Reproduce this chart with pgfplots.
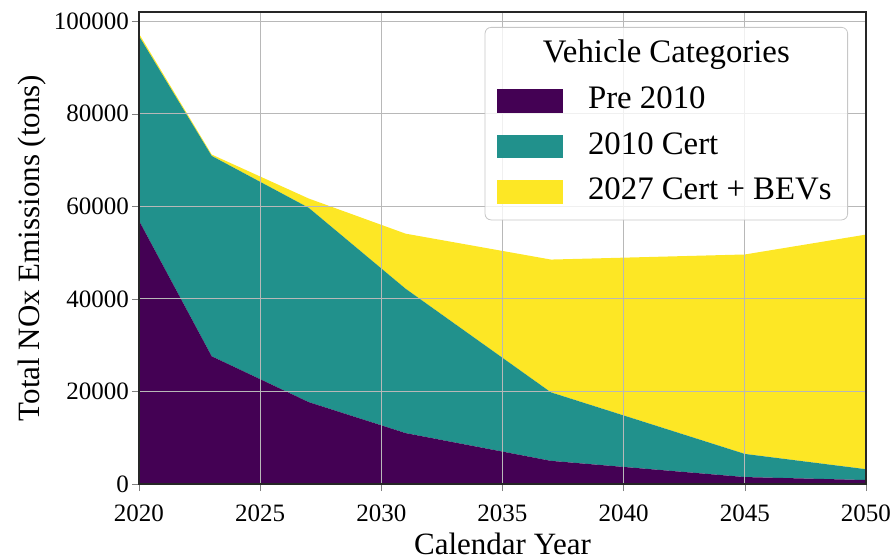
\documentclass[border=0pt]{standalone}
\usepackage{fontspec}
\setmainfont{Liberation Serif}
\usepackage{pgfplots}
\pgfplotsset{compat=1.18}
\definecolor{vpurple}{HTML}{440154}
\definecolor{vteal}{HTML}{21918C}
\definecolor{vyellow}{HTML}{FDE725}
\begin{document}
\begin{tikzpicture}
\path[use as bounding box] (-69.5pt,-37pt) rectangle (377pt,242pt);
\begin{axis}[
  scale only axis, width=363.5pt, height=236pt,
  xmin=2020, xmax=2050, ymin=0, ymax=102000,
  stack plots=y,
  xtick={2020,2025,2030,2035,2040,2045,2050},
  xticklabels={2020,2025,2030,2035,2040,2045,2050},
  ytick={0,20000,40000,60000,80000,100000},
  yticklabels={0,20000,40000,60000,80000,100000},
  scaled y ticks=false,
  tick label style={font=\fontsize{12.5}{14}\selectfont},
  xticklabel style={yshift=-3.5pt},
  yticklabel style={xshift=2pt},
  label style={font=\fontsize{15.5}{18}\selectfont},
  xlabel={Calendar Year}, ylabel={Total NOx Emissions (tons)},
  xlabel style={yshift=1.5pt},
  ylabel shift=-3pt,
  grid=major, grid style={color=black!28, line width=0.5pt},
  axis on top,
  tick align=outside, xtick pos=left, ytick pos=left,
  major tick length=3.5pt,
  axis line style={black!85, line width=0.6pt},
  legend image code/.code={\fill[#1, sharp corners, fill opacity=1] (0pt,-5.9pt) rectangle (33pt,5.9pt);},
  legend style={at={(rel axis cs:1,1)}, xshift=-9pt, yshift=-7.5pt, anchor=north east,
    draw=black!22, rounded corners=3pt, fill=white, fill opacity=0.8, text opacity=1,
    font=\fontsize{16.4}{19}\selectfont, row sep=3.75pt, inner xsep=6pt, inner ysep=4.5pt,
    nodes={text height=11.5pt, text depth=3.5pt, inner sep=2pt},
    /tikz/every odd column/.append style={column sep=10.5pt},
    label={[anchor=center, yshift=-14pt, text opacity=1, font=\fontsize{16.4}{19}\selectfont]north:Vehicle Categories}},
  legend cell align=left,
]
\addlegendimage{empty legend}
\addlegendentry{}
\addplot[draw=none, fill=vpurple] coordinates {(2020,56900) (2023,27600) (2027,17700) (2031,11000) (2037,5000) (2045,1500) (2050,860)} \closedcycle;
\addlegendentry{Pre 2010}
\addplot[draw=none, fill=vteal] coordinates {(2020,39900) (2023,43300) (2027,42000) (2031,31200) (2037,14800) (2045,5000) (2050,2340)} \closedcycle;
\addlegendentry{2010 Cert}
\addplot[draw=none, fill=vyellow] coordinates {(2020,500) (2023,300) (2027,2000) (2031,11900) (2037,28700) (2045,43100) (2050,50700)} \closedcycle;
\addlegendentry{2027 Cert + BEVs}
\end{axis}
\end{tikzpicture}
\end{document}
